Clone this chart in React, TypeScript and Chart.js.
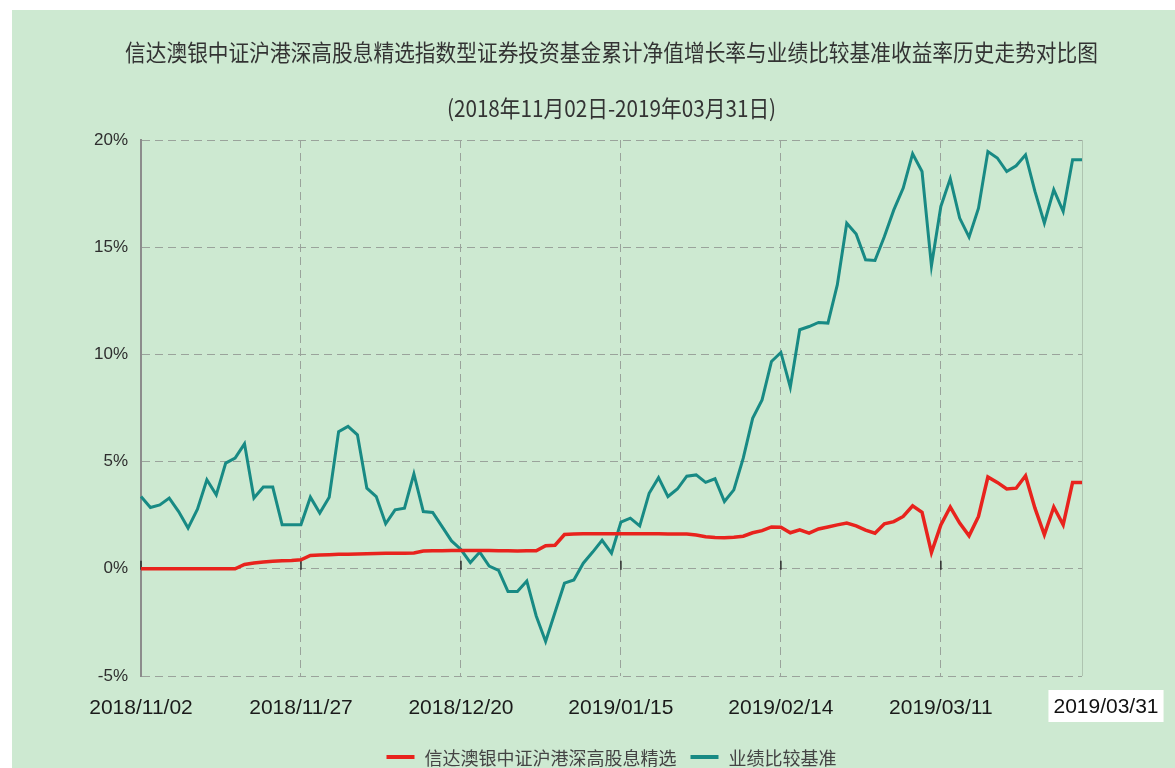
import React, { useEffect, useRef } from 'react';
import { Chart, registerables } from 'chart.js';

Chart.register(...registerables);

const TITLE = '信达澳银中证沪港深高股息精选指数型证券投资基金累计净值增长率与业绩比较基准收益率历史走势对比图';
const SUBTITLE = '(2018年11月02日-2019年03月31日)';
const FUND_NAME = '信达澳银中证沪港深高股息精选';
const BENCH_NAME = '业绩比较基准';

const tickDates = ['2018/11/02', '2018/11/27', '2018/12/20', '2019/01/15', '2019/02/14', '2019/03/11'];
const TICK_EVERY = 17;
const END_LABEL = '2019/03/31';

const Y_MIN = -5;
const Y_MAX = 20;
const Y_STEP = 5;

// 基金累计净值增长率 (%)
const fundValues = [
  0, 0, 0, 0, 0, 0, 0, 0, 0, 0,
  0, 0.2, 0.27, 0.32, 0.35, 0.37, 0.39, 0.42, 0.62, 0.64,
  0.66, 0.68, 0.68, 0.69, 0.7, 0.71, 0.72, 0.73, 0.73, 0.74,
  0.83, 0.84, 0.84, 0.85, 0.85, 0.85, 0.85, 0.85, 0.84, 0.84,
  0.83, 0.84, 0.84, 1.08, 1.1, 1.6, 1.62, 1.63, 1.63, 1.64,
  1.64, 1.64, 1.64, 1.64, 1.63, 1.63, 1.62, 1.62, 1.62, 1.58,
  1.5, 1.46, 1.45, 1.47, 1.52, 1.68, 1.78, 1.95, 1.94, 1.68,
  1.82, 1.66, 1.86, 1.95, 2.05, 2.13, 2.0, 1.8, 1.66, 2.1,
  2.2, 2.44, 2.94, 2.63, 0.76, 2.05, 2.88, 2.13, 1.54, 2.44,
  4.28, 4.03, 3.72, 3.76, 4.34, 2.83, 1.59, 2.88, 2.05, 4.03,
  4.03,
];

// 业绩比较基准收益率 (%)
const benchValues = [
  3.37, 2.86, 2.98, 3.3, 2.67, 1.9, 2.78, 4.15, 3.45, 4.93,
  5.16, 5.83, 3.3, 3.81, 3.81, 2.05, 2.05, 2.05, 3.34, 2.6,
  3.34, 6.4, 6.64, 6.25, 3.76, 3.37, 2.1, 2.75, 2.83, 4.43,
  2.67, 2.63, 1.97, 1.3, 0.9, 0.29, 0.78, 0.13, -0.07, -1.06,
  -1.06, -0.57, -2.2, -3.39, -2.03, -0.67, -0.52, 0.26, 0.78, 1.33,
  0.73, 2.18, 2.36, 2.0, 3.52, 4.25, 3.37, 3.72, 4.32, 4.38,
  4.03, 4.2, 3.14, 3.68, 5.16, 7.02, 7.88, 9.67, 10.09, 8.47,
  11.15, 11.3, 11.49, 11.46, 13.25, 16.12, 15.62, 14.41, 14.38, 15.5,
  16.74, 17.76, 19.36, 18.53, 14.13, 16.9, 18.2, 16.36, 15.47, 16.82,
  19.46, 19.16, 18.53, 18.8, 19.31, 17.6, 16.12, 17.68, 16.67, 19.08,
  19.08,
];

const FUND_COLOR = '#e8231d';
const BENCH_COLOR = '#188a84';
const BG_COLOR = '#cde9d1';
const GRID_COLOR = '#9aa39b';
const SANS = "'Liberation Sans', Arial, sans-serif";
const CJK = "'Noto Sans CJK SC', 'Noto Sans', sans-serif";
const X_FONT_SIZE = 21;
const Y_FONT_SIZE = 17;

const decorPlugin = {
  id: 'decor',
  beforeDatasetsDraw(chart: any) {
    const { ctx, chartArea: ca, scales } = chart;
    const x = scales.x;
    const y0 = scales.y.getPixelForValue(0);
    ctx.save();
    // faint right edge
    ctx.strokeStyle = 'rgba(150,165,150,0.55)';
    ctx.lineWidth = 1;
    ctx.beginPath();
    ctx.moveTo(ca.right + 0.5, ca.top);
    ctx.lineTo(ca.right + 0.5, ca.bottom);
    ctx.stroke();
    // small dark ticks on the zero line
    ctx.strokeStyle = '#2a2a2a';
    ctx.lineWidth = 1.5;
    for (let i = 0; i < tickDates.length; i++) {
      const px = x.getPixelForValue(i * TICK_EVERY);
      ctx.beginPath();
      ctx.moveTo(px, y0 - 8);
      ctx.lineTo(px, y0 + 1);
      ctx.stroke();
    }
    ctx.restore();
  },
  afterDraw(chart: any) {
    const { ctx, chartArea: ca } = chart;
    const cx = (ca.left + ca.right) / 2;
    ctx.save();
    ctx.fillStyle = '#333';
    ctx.textAlign = 'center';
    ctx.textBaseline = 'middle';
    ctx.font = `23px ${CJK}`;
    ctx.save();
    ctx.translate(cx, 42);
    ctx.scale(0.9, 1);
    ctx.fillText(TITLE, 0, 0);
    ctx.restore();
    ctx.save();
    ctx.translate(cx, 98);
    ctx.scale(0.9, 1);
    ctx.fillText(SUBTITLE, 0, 0);
    ctx.restore();

    // end label with white box
    ctx.font = `${X_FONT_SIZE}px ${SANS}`;
    const ex = ca.right + 24;
    const ey = 696;
    const w = ctx.measureText(END_LABEL).width;
    ctx.fillStyle = '#ffffff';
    ctx.fillRect(ex - w / 2 - 5, ey - 16, w + 10, 32);
    ctx.fillStyle = '#111';
    ctx.fillText(END_LABEL, ex, ey + 1);

    // legend
    ctx.font = `18px ${CJK}`;
    const items = chart.data.datasets.map((d: any) => ({ label: d.label, color: d.borderColor }));
    const lineLen = 28;
    const gap = 10;
    const itemGap = 14;
    const widths = items.map((it: any) => lineLen + gap + ctx.measureText(it.label).width);
    const total = widths.reduce((a: number, b: number) => a + b, 0) + itemGap * (items.length - 1);
    let lx = cx - total / 2;
    const ly = 747;
    ctx.textAlign = 'left';
    items.forEach((it: any, i: number) => {
      ctx.strokeStyle = it.color;
      ctx.lineWidth = 4;
      ctx.beginPath();
      ctx.moveTo(lx, ly);
      ctx.lineTo(lx + lineLen, ly);
      ctx.stroke();
      ctx.fillStyle = '#444';
      ctx.fillText(it.label, lx + lineLen + gap, ly + 1);
      lx += widths[i] + itemGap;
    });
    ctx.restore();
  },
};

export default function App() {
  const ref = useRef<HTMLCanvasElement>(null);

  useEffect(() => {
    if (!ref.current) return;
    const chart = new Chart(ref.current, {
      type: 'line',
      data: {
        labels: fundValues.map((_, i) => i),
        datasets: [
          {
            label: FUND_NAME,
            data: fundValues,
            borderColor: FUND_COLOR,
            borderWidth: 3.5,
            pointRadius: 0,
            tension: 0,
            fill: false,
          },
          {
            label: BENCH_NAME,
            data: benchValues,
            borderColor: BENCH_COLOR,
            borderWidth: 3,
            pointRadius: 0,
            tension: 0,
            fill: false,
          },
        ],
      },
      options: {
        animation: false,
        responsive: false,
        maintainAspectRatio: false,
        events: [],
        layout: { padding: { top: 130, left: 0, right: 93, bottom: 0 } },
        plugins: {
          legend: { display: false },
          title: { display: false },
          tooltip: { enabled: false },
        },
        scales: {
          x: {
            type: 'category',
            offset: false,
            afterFit: (s: any) => { s.height = 104; },
            border: { display: false, dash: [8, 5] },
            grid: {
              color: (c: any) => (c.index === 0 ? 'rgba(0,0,0,0)' : GRID_COLOR),
              lineWidth: 1,
              drawTicks: false,
            },
            ticks: {
              autoSkip: false,
              maxRotation: 0,
              padding: 20,
              color: '#1a1a1a',
              font: { family: SANS, size: X_FONT_SIZE },
              callback: (v: any, i: number) =>
                i % TICK_EVERY === 0 && i / TICK_EVERY < tickDates.length ? tickDates[i / TICK_EVERY] : null,
            },
          },
          y: {
            min: Y_MIN,
            max: Y_MAX,
            afterFit: (s: any) => { s.width = 129; },
            border: { display: true, color: '#8c8c8c', width: 2, dash: [8, 5] },
            grid: { color: GRID_COLOR, lineWidth: 1, drawTicks: false },
            ticks: {
              stepSize: Y_STEP,
              padding: 13,
              color: '#2e2e2e',
              font: { family: SANS, size: Y_FONT_SIZE },
              callback: (v: any) => `${v}%`,
            },
          },
        },
      },
      plugins: [decorPlugin],
    } as any);
    return () => chart.destroy();
  }, []);

  return (
    <div
      style={{
        position: 'absolute',
        left: 12,
        top: 10,
        width: 1163,
        height: 758,
        overflow: 'hidden',
        background: BG_COLOR,
      }}
    >
      <canvas ref={ref} width={1163} height={770} style={{ display: 'block', width: 1163, height: 770 }} />
    </div>
  );
}
